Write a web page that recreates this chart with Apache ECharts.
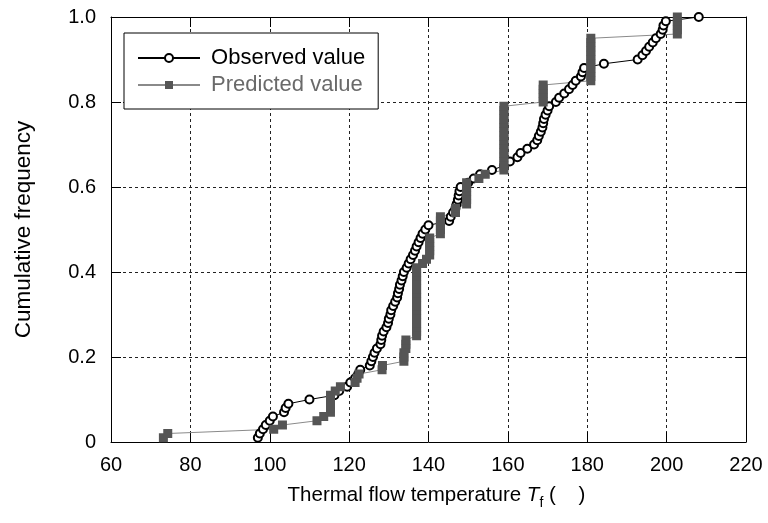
<!DOCTYPE html>
<html>
<head>
<meta charset="utf-8">
<script src="https://cdn.jsdelivr.net/npm/echarts@6/dist/echarts.min.js"></script>
<style>
html,body{margin:0;padding:0;background:#fff;}
#chart{width:768px;height:523px;}
</style>
</head>
<body>
<div id="chart"></div>
<script>
// Cumulative frequency levels (shared by both series)
const freq = [0.01,0.02,0.03,0.04,0.05,0.06,0.07,0.08,0.09,0.10,
0.11,0.12,0.13,0.14,0.15,0.16,0.17,0.18,0.19,0.20,
0.21,0.22,0.23,0.24,0.25,0.26,0.27,0.28,0.29,0.30,
0.31,0.32,0.33,0.34,0.35,0.36,0.37,0.38,0.39,0.40,
0.41,0.42,0.43,0.44,0.45,0.46,0.47,0.48,0.49,0.50,
0.51,0.52,0.53,0.54,0.55,0.56,0.57,0.58,0.59,0.60,
0.61,0.62,0.63,0.64,0.65,0.66,0.67,0.68,0.69,0.70,
0.71,0.72,0.73,0.74,0.75,0.76,0.77,0.78,0.79,0.80,
0.81,0.82,0.83,0.84,0.85,0.86,0.87,0.88,0.89,0.90,
0.91,0.92,0.93,0.94,0.95,0.96,0.97,0.98,0.99,1.00];

// Observed thermal flow temperature (sorted)
const observedT = [97.0,97.5,98.3,99.0,100.0,100.8,103.6,104.0,104.7,110.0,
116.3,117.5,119.5,120.3,121.5,122.3,122.8,125.2,125.6,126.0,
126.4,127.0,127.9,128.1,128.3,128.7,129.4,129.8,130.0,130.4,
130.6,131.1,131.6,132.1,132.3,132.6,132.8,133.2,133.5,133.8,
134.5,135.0,135.5,136.1,136.6,137.0,137.5,138.0,138.5,139.2,
140.0,145.2,145.6,146.2,146.8,147.1,147.4,147.6,147.8,148.1,
150.0,151.4,153.0,156.0,159.0,160.5,162.4,163.2,164.9,166.6,
167.4,167.8,168.3,168.7,168.9,169.1,169.5,170.0,170.4,172.1,
172.9,174.2,175.4,176.3,177.1,178.4,178.8,179.2,184.2,192.7,
193.9,194.8,195.6,196.5,197.3,198.5,199.0,199.2,199.8,208.1];

// Predicted thermal flow temperature (sorted)
const predictedT = [73.2,74.3,101.0,103.2,111.9,113.6,115.3,115.3,115.3,115.3,
115.3,116.5,117.8,121.5,122.0,122.5,128.3,128.4,133.8,133.8,
133.8,134.3,134.3,134.3,137.0,137.0,137.0,137.0,137.0,137.0,
137.0,137.0,137.0,137.0,137.0,137.0,137.0,137.0,137.0,137.0,
137.0,138.5,139.5,140.3,140.3,140.3,140.3,140.3,143.0,143.0,
143.0,143.0,143.0,146.8,146.8,149.6,149.6,149.6,149.6,149.6,
149.6,152.7,154.3,159.0,159.0,159.0,159.0,159.0,159.0,159.0,
159.0,159.0,159.0,159.0,159.0,159.0,159.0,159.0,159.0,168.9,
168.9,168.9,168.9,168.9,180.9,180.9,180.9,180.9,180.9,180.9,
180.9,180.9,180.9,180.9,180.9,202.7,202.7,202.7,202.7,202.7];

const seriesNames = ['Observed value', 'Predicted value'];
const xTicks = [60, 220, 20];   // min, max, interval
const yTicks = [0, 1, 0.2];

const FONT = '"Liberation Sans", Arial, sans-serif';

const observedData = observedT.map((t, i) => [t, freq[i]]);
const predictedData = predictedT.map((t, i) => [t, freq[i]]);

const chart = echarts.init(document.getElementById('chart'), null, {renderer: 'canvas'});

const grid = {left: 111, right: 22, top: 17, bottom: 81};
const dashed = {show: true, lineStyle: {color: '#222', type: [3, 3], width: 1}};
const tick = {show: true, inside: true, length: 10, lineStyle: {color: '#000', width: 1}};

chart.setOption({
  animation: false,
  backgroundColor: '#fff',
  grid: grid,
  legend: {
    orient: 'vertical',
    left: 124, top: 33,
    backgroundColor: '#fff',
    borderColor: '#000', borderWidth: 1, borderRadius: 0,
    padding: [14, 13, 13, 13],
    itemWidth: 62, itemHeight: 10, itemGap: 5,
    formatter: function (n) { return ' ' + n; },
    textStyle: {fontSize: 22, fontFamily: FONT},
    data: [
      {name: seriesNames[0], textStyle: {color: '#000'}},
      {name: seriesNames[1], textStyle: {color: '#6a6a6a'}}
    ]
  },
  xAxis: [{
    type: 'value', min: xTicks[0], max: xTicks[1], interval: xTicks[2],
    position: 'bottom',
    axisLine: {show: true, onZero: false, lineStyle: {color: '#000', width: 1}},
    axisTick: tick,
    splitLine: dashed,
    axisLabel: {color: '#000', fontSize: 20, fontFamily: FONT, margin: 13},
    name: '{a|Thermal flow temperature }{i|T}{s|f}{a| (    )}',
    nameLocation: 'middle', nameGap: 38,
    nameTextStyle: {
      fontFamily: FONT, color: '#000',
      padding: [0, 0, 0, 16],
      rich: {
        a: {fontSize: 20.5, fontFamily: FONT, color: '#000', lineHeight: 30},
        i: {fontSize: 20.5, fontFamily: FONT, color: '#000', fontStyle: 'italic', lineHeight: 30},
        s: {fontSize: 14, fontFamily: FONT, color: '#000', verticalAlign: 'bottom', lineHeight: 14}
      }
    }
  }, {
    type: 'value', min: xTicks[0], max: xTicks[1], interval: xTicks[2],
    position: 'top',
    axisLine: {show: true, onZero: false, lineStyle: {color: '#000', width: 1}},
    axisTick: tick,
    splitLine: {show: false},
    axisLabel: {show: false}
  }],
  yAxis: [{
    type: 'value', min: yTicks[0], max: yTicks[1], interval: yTicks[2],
    position: 'left',
    axisLine: {show: true, onZero: false, lineStyle: {color: '#000', width: 1}},
    axisTick: tick,
    splitLine: dashed,
    axisLabel: {color: '#000', fontSize: 20, fontFamily: FONT, margin: 15,
      formatter: function (v) { return v === 0 ? '0' : v.toFixed(1); }},
    name: 'Cumulative frequency',
    nameLocation: 'middle', nameGap: 76,
    nameTextStyle: {fontSize: 22.5, fontFamily: FONT, color: '#000'}
  }, {
    type: 'value', min: yTicks[0], max: yTicks[1], interval: yTicks[2],
    position: 'right',
    axisLine: {show: true, onZero: false, lineStyle: {color: '#000', width: 1}},
    axisTick: tick,
    splitLine: {show: false},
    axisLabel: {show: false}
  }],
  series: [{
    name: seriesNames[0],
    type: 'line',
    data: observedData,
    symbol: 'emptyCircle',
    symbolSize: 8,
    showAllSymbol: true,
    itemStyle: {color: '#000', borderWidth: 1},
    lineStyle: {color: '#000', width: 1},
    emphasis: {disabled: true}
  }, {
    name: seriesNames[1],
    type: 'line',
    data: predictedData,
    symbol: 'rect',
    symbolSize: 9,
    showAllSymbol: true,
    itemStyle: {color: '#555'},
    lineStyle: {color: '#8a8a8a', width: 1},
    emphasis: {disabled: true}
  }]
});
</script>
</body>
</html>
